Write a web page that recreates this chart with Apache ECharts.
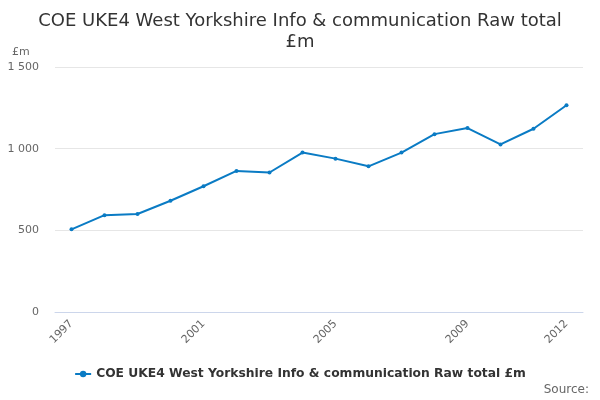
<!DOCTYPE html>
<html><head><meta charset="utf-8">
<script src="https://cdn.jsdelivr.net/npm/echarts@6/dist/echarts.min.js"></script>
<style>html,body{margin:0;padding:0;background:#fff}#c{width:600px;height:400px}</style>
</head><body><div id="c"></div>
<script>
const years = ['1997','1998','1999','2000','2001','2002','2003','2004','2005','2006','2007','2008','2009','2010','2011','2012'];
const values = [506, 593, 600, 681, 770, 864, 854, 976, 939, 892, 976, 1089, 1126, 1026, 1122, 1266];
const shownYears = ['1997','2001','2005','2009','2012'];
const yTicks = [0, 500, 1000, 1500];
const seriesName = 'COE UKE4 West Yorkshire Info & communication Raw total £m';
const font = 'DejaVu Sans';
const chart = echarts.init(document.getElementById('c'), null, {renderer:'canvas'});
chart.setOption({
  animation: false,
  textStyle: {fontFamily: font},
  title: {
    text: 'COE UKE4 West Yorkshire Info & communication Raw total\n£m',
    left: 'center', top: 6,
    textStyle: {fontFamily: font, fontSize: 18, fontWeight: 'normal', color: '#333', lineHeight: 21}
  },
  graphic: [
    {type:'text', left: 12, top: 47, style:{text:'£m', fontFamily: font, fontSize: 11, fill:'#666'}},
    {type:'text', right: 11, top: 384, style:{text:'Source:', fontFamily: font, fontSize: 12, fill:'#666'}}
  ],
  legend: {
    bottom: 15, left: 'center',
    itemWidth: 16, itemHeight: 8, itemGap: 5,
    textStyle: {fontFamily: font, fontSize: 12.3, fontWeight: 'bold', color: '#333'},
    data: [seriesName]
  },
  grid: {left: 55, right: 17, top: 67, bottom: 88},
  xAxis: {
    type: 'category', data: years, boundaryGap: true,
    axisLine: {lineStyle: {color: '#ccd6eb'}},
    axisTick: {alignWithLabel: true, interval: 0, length: 10, lineStyle: {color: '#ccd6eb'}},
    axisLabel: {
      rotate: 45, fontFamily: font, fontSize: 11, color: '#666', margin: 10,
      interval: (i, v) => shownYears.includes(v)
    }
  },
  yAxis: {
    type: 'value', min: yTicks[0], max: yTicks[yTicks.length-1], interval: 500,
    axisLine: {show: false}, axisTick: {show: false},
    splitLine: {lineStyle: {color: '#e6e6e6'}},
    axisLabel: {fontFamily: font, fontSize: 11, color: '#666', margin: 16,
      formatter: v => String(v).replace(/\B(?=(\d{3})+(?!\d))/g, ' ')}
  },
  series: [{
    name: seriesName, type: 'line', data: values,
    symbol: 'circle', symbolSize: 4, showSymbol: true,
    lineStyle: {color: '#0a7bc4', width: 2},
    itemStyle: {color: '#0a7bc4'}
  }]
});
</script></body></html>
